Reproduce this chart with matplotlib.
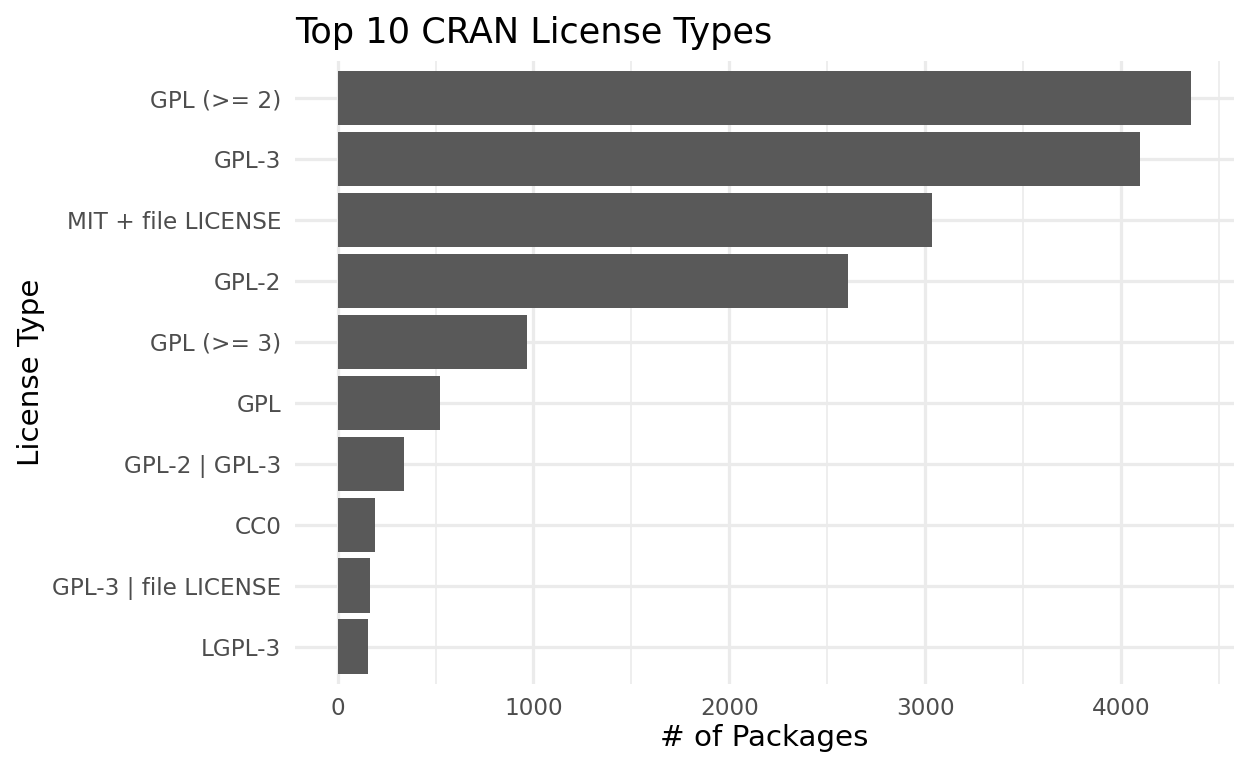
import matplotlib
matplotlib.use("Agg")
import matplotlib.pyplot as plt
from matplotlib.ticker import MultipleLocator

# data, largest first (top of chart)
licenses = [
    "GPL (>= 2)", "GPL-3", "MIT + file LICENSE", "GPL-2", "GPL (>= 3)",
    "GPL", "GPL-2 | GPL-3", "CC0", "GPL-3 | file LICENSE", "LGPL-3",
]
counts = [4360, 4100, 3034, 2606, 968, 523, 340, 191, 166, 156]

BAR = "#595959"
GRID = "#EBEBEB"
TICK = "#4D4D4D"

plt.rcParams["font.family"] = "DejaVu Sans"

fig = plt.figure(figsize=(6.5, 4), dpi=192)
ax = fig.add_axes([0.2364, 0.110, 0.9888 - 0.2364, 0.920 - 0.110])

pos = list(range(len(licenses)))[::-1]
ax.barh(pos, counts, height=0.9, color=BAR, zorder=2)

xmax = max(counts)
ax.set_xlim(-0.05 * xmax, 1.05 * xmax)
ax.set_ylim(-0.6, len(licenses) - 1 + 0.6)

ax.set_yticks(pos)
ax.set_yticklabels(licenses)
ax.xaxis.set_major_locator(MultipleLocator(1000))
ax.xaxis.set_minor_locator(MultipleLocator(500))

ax.grid(which="major", color=GRID, lw=1.2, zorder=0)
ax.grid(which="minor", axis="x", color=GRID, lw=0.6, zorder=0)
ax.set_axisbelow(True)
for s in ax.spines.values():
    s.set_visible(False)
ax.tick_params(which="both", length=0)
ax.tick_params(axis="y", pad=5.2, labelsize=8.7, labelcolor=TICK)
ax.tick_params(axis="x", pad=5.0, labelsize=8.7, labelcolor=TICK)

ax.set_xlabel("# of Packages", fontsize=11, labelpad=1.5)
ax.set_ylabel("License Type", fontsize=11, labelpad=2.5)
ax.set_title("Top 10 CRAN License Types", fontsize=13.2, loc="left", pad=7)

fig.savefig("out.png", dpi=192, facecolor="white")
